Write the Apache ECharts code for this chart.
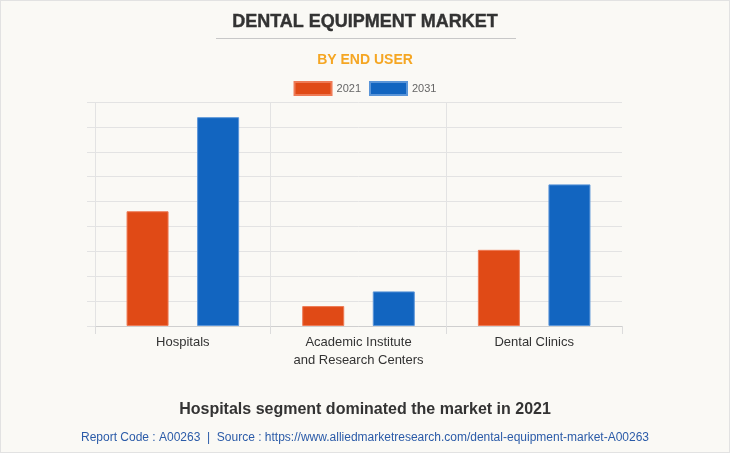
<!DOCTYPE html>
<html>
<head>
<meta charset="utf-8">
<script src="https://cdn.jsdelivr.net/npm/echarts@6/dist/echarts.min.js"></script>
<style>
html,body{margin:0;padding:0;background:#faf9f5;}
#c{width:730px;height:453px;box-sizing:border-box;border:1px solid #e2e2e2;}
</style>
</head>
<body>
<div id="c"></div>
<script>
const categories = ['Hospitals', 'Academic Institute\nand Research Centers', 'Dental Clinics'];
const seriesNames = ['2021', '2031'];
const values2021 = [4.61, 0.80, 3.06];
const values2031 = [8.39, 1.39, 5.69];
const titleText = 'DENTAL EQUIPMENT MARKET';
const subtitleText = 'BY END USER';
const captionText = 'Hospitals segment dominated the market in 2021';
const footerText = 'Report Code : A00263  |  Source : https://www.alliedmarketresearch.com/dental-equipment-market-A00263';

const chart = echarts.init(document.getElementById('c'), null, {renderer: 'canvas'});
const font = '"Liberation Sans", Arial, sans-serif';
chart.setOption({
  backgroundColor: '#faf9f5',
  textStyle: {fontFamily: font},
  title: [
    {text: titleText, left: 'center', top: 7, textStyle: {fontSize: 18, fontWeight: 'bold', color: '#333', fontFamily: font, textBorderColor: '#333', textBorderWidth: 0.4}},
    {text: subtitleText, left: 'center', top: 47, textStyle: {fontSize: 14, fontWeight: 'bold', color: '#f5a623', fontFamily: font}},
    {text: captionText, left: 'center', top: 396, textStyle: {fontSize: 16, fontWeight: 'bold', color: '#333', fontFamily: font}},
    {text: footerText, left: 'center', top: 426, textStyle: {fontSize: 12, fontWeight: 'normal', color: '#2b5ba8', fontFamily: font}}
  ],
  graphic: [
    {type: 'line', shape: {x1: 215, y1: 37.5, x2: 515, y2: 37.5}, style: {stroke: '#c8c8c8', lineWidth: 1}}
  ],
  legend: {
    top: 75, left: 'center', itemWidth: 37, itemHeight: 13, itemGap: 8,
    icon: 'rect',
    data: seriesNames,
    textStyle: {fontSize: 11, color: '#666', fontFamily: font}
  },
  grid: {left: 94, right: 107, top: 101, bottom: 126, containLabel: false},
  xAxis: {
    type: 'category',
    data: categories,
    axisLine: {lineStyle: {color: '#cfcfcf'}},
    axisTick: {show: true, length: 8, lineStyle: {color: '#dcdcdc'}},
    axisLabel: {fontSize: 13, color: '#333', margin: 7, lineHeight: 18, fontFamily: font},
    splitLine: {show: true, showMinLine: true, showMaxLine: false, lineStyle: {color: '#e3e3e3'}}
  },
  yAxis: {
    type: 'value', min: 0, max: 9, interval: 1,
    axisLabel: {show: false},
    axisLine: {show: false},
    axisTick: {show: true, length: 8, lineStyle: {color: '#e3e3e3'}},
    splitLine: {show: true, lineStyle: {color: '#e3e3e3'}}
  },
  series: [
    {name: seriesNames[0], type: 'bar', data: values2021, barWidth: 42, barGap: '68%',
     itemStyle: {color: '#e04a16', borderColor: '#ee7a55', borderWidth: 1}},
    {name: seriesNames[1], type: 'bar', data: values2031, barWidth: 42, barGap: '68%',
     itemStyle: {color: '#1265c0', borderColor: '#5a95d8', borderWidth: 1}}
  ]
});
</script>
</body>
</html>
